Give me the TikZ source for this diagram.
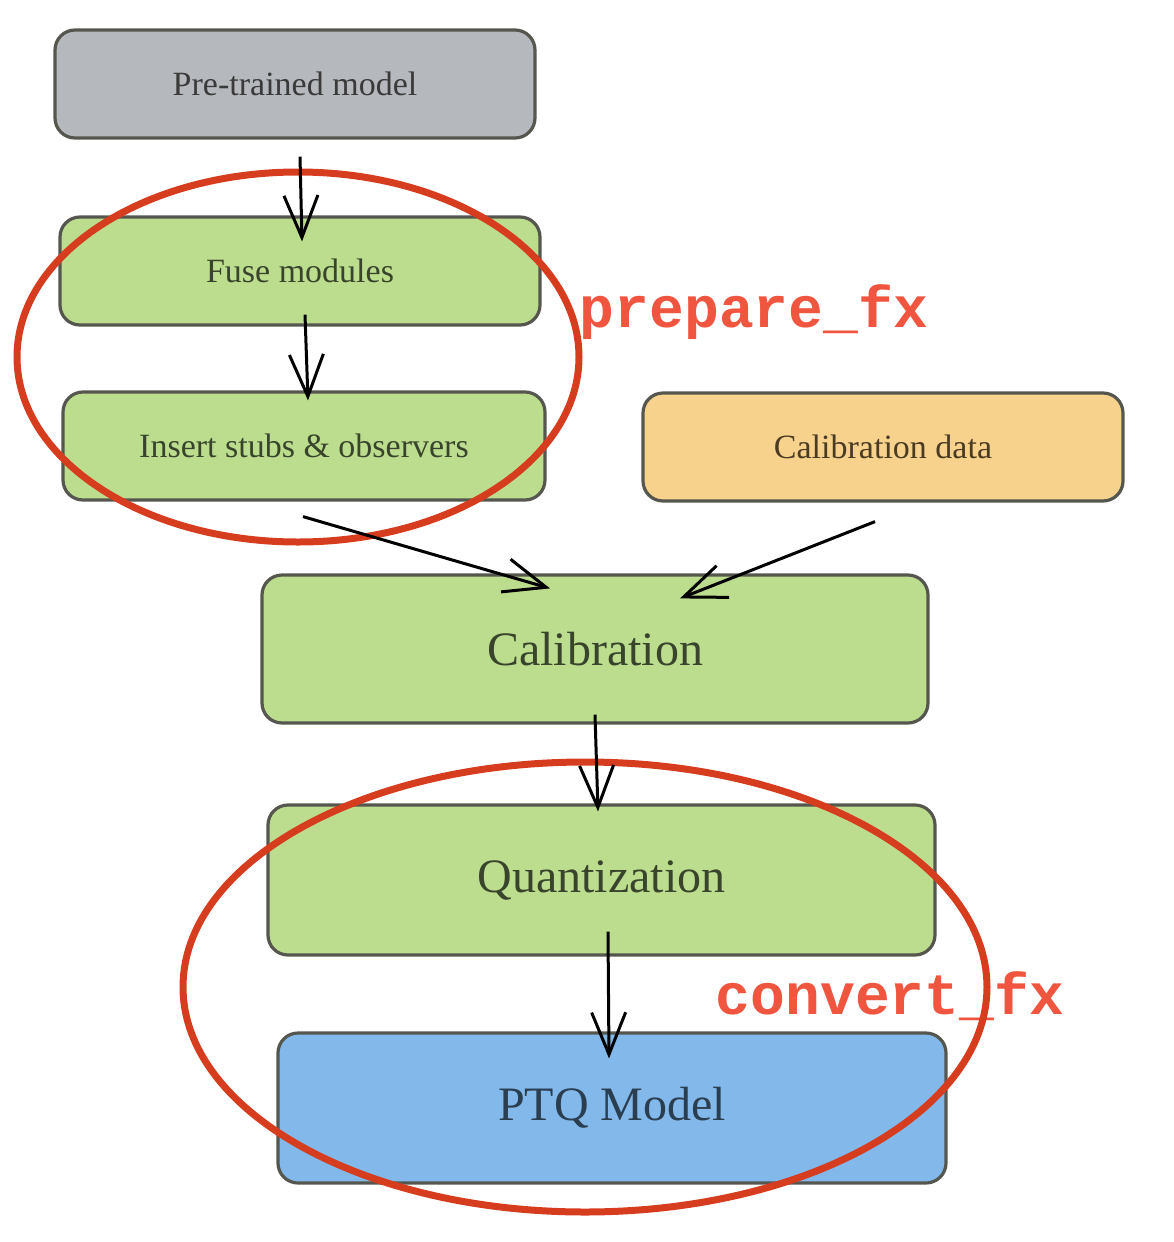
\documentclass[tikz,border=0pt]{standalone}
\usepackage{fontspec}
\setmainfont{Liberation Serif}
\setmonofont{Liberation Mono}
\usetikzlibrary{arrows.meta}
\definecolor{boxgray}{HTML}{B5B8BC}
\definecolor{boxgreen}{HTML}{BDDD8E}
\definecolor{boxorange}{HTML}{F7D28C}
\definecolor{boxblue}{HTML}{82B8EA}
\definecolor{edgegray}{HTML}{55574F}
\definecolor{txtgray}{HTML}{3A3A3A}
\definecolor{txtgreen}{HTML}{38452C}
\definecolor{txtorange}{HTML}{4A3B22}
\definecolor{txtblue}{HTML}{2B3E50}
\definecolor{ringred}{HTML}{D63C1E}
\definecolor{labred}{HTML}{F05540}
\tikzset{
  box/.style={draw=edgegray, line width=3.2pt, rounded corners=20pt, inner sep=0pt},
  smallbox/.style={box, minimum width=480pt, minimum height=108pt, font=\fontsize{34}{40}\selectfont},
  bigbox/.style={box, minimum width=667pt, minimum height=149pt, font=\fontsize{48}{56}\selectfont},
  arr/.style={line width=3pt, -{Straight Barb[length=42pt,width=34pt,line width=3pt]}},
  ring/.style={draw=ringred, line width=7pt},
  codelabel/.style={text=labred, font=\fontsize{58}{64}\selectfont\ttfamily\bfseries, inner sep=0pt}
}
\begin{document}
\begin{tikzpicture}[x=1pt,y=-1pt]
\useasboundingbox (0,0) rectangle (1174,1242);
% boxes
\node[smallbox, fill=boxgray, text=txtgray] (pre) at (295,84) {Pre-trained model};
\node[smallbox, fill=boxgreen, text=txtgreen] (fuse) at (300,271) {Fuse modules};
\node[smallbox, fill=boxgreen, text=txtgreen, minimum width=482pt] (ins) at (304,446) {Insert stubs \& observers};
\node[smallbox, fill=boxorange, text=txtorange] (cdata) at (883,447) {Calibration data};
\node[bigbox, fill=boxgreen, text=txtgreen, minimum width=666pt, minimum height=148pt] (calib) at (595,649) {Calibration};
\node[bigbox, fill=boxgreen, text=txtgreen, minimum height=150pt] (quant) at (601.5,880) {Quantization};
\node[bigbox, fill=boxblue, text=txtblue, minimum width=668pt, minimum height=150pt] (ptq) at (612,1108) {PTQ Model};
% labels
\node[codelabel] (prep) at (754,312) {prepare\_fx};
\node[codelabel] (conv) at (890,996) {convert\_fx};
% rings
\draw[ring] (298,357) ellipse [x radius=281, y radius=185];
\draw[ring] (585,987) ellipse [x radius=402, y radius=225];
% arrows
\draw[arr] ([xshift=5pt,yshift=-17pt]pre.south) -- ([xshift=2pt,yshift=-26pt]fuse.north);
\draw[arr] ([xshift=5pt,yshift=12pt]fuse.south) -- ([xshift=4pt,yshift=-10pt]ins.north);
\draw[arr] ([xshift=-1pt,yshift=-15pt]ins.south) -- ([xshift=-45pt,yshift=-15pt]calib.north);
\draw[arr] ([xshift=-8pt,yshift=-19pt]cdata.south) -- ([xshift=85pt,yshift=-25pt]calib.north);
\draw[arr] ([xshift=0pt,yshift=10pt]calib.south) -- ([xshift=-3.5pt,yshift=-8pt]quant.north);
\draw[arr] ([xshift=6.5pt,yshift=25pt]quant.south) -- ([xshift=-3pt,yshift=-27pt]ptq.north);
\end{tikzpicture}
\end{document}
